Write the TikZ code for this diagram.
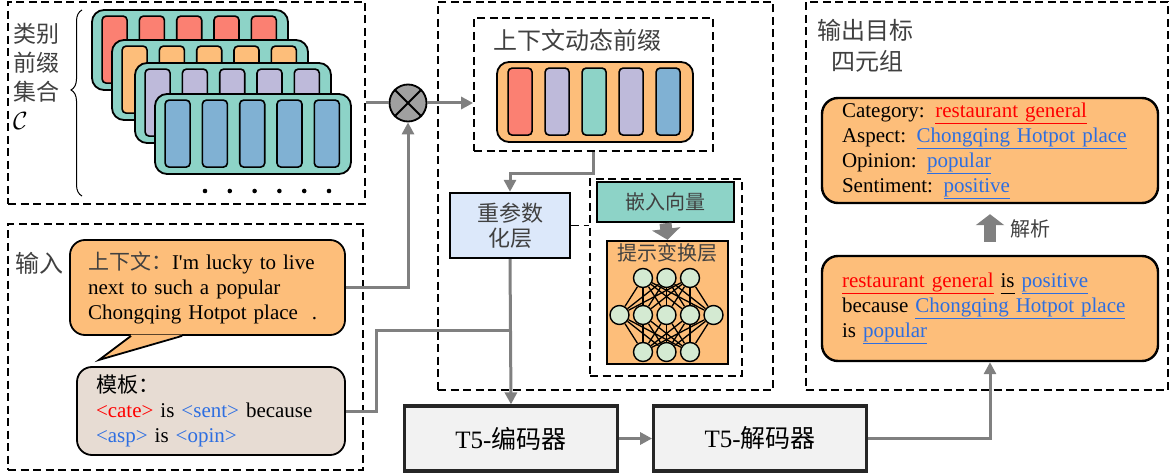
\documentclass[tikz,border=0pt]{standalone}
\usepackage{fontspec}
\setmainfont{Liberation Serif}
\newfontfamily\cjk{Noto Sans CJK SC}
\usetikzlibrary{calc,positioning,arrows.meta,decorations.pathreplacing}
\definecolor{setred}{RGB}{251,128,114}
\definecolor{setorange}{RGB}{253,190,122}
\definecolor{setteal}{RGB}{141,211,199}
\definecolor{setpurple}{RGB}{190,186,218}
\definecolor{setblue}{RGB}{128,177,211}
\definecolor{netgreen}{RGB}{212,234,210}
\definecolor{reparamblue}{RGB}{220,232,250}
\definecolor{tplbeige}{RGB}{231,220,211}
\definecolor{flowgray}{RGB}{128,128,128}
\definecolor{mulgray}{RGB}{160,160,160}
\definecolor{catred}{RGB}{255,0,0}
\definecolor{linkblue}{RGB}{45,110,225}
\definecolor{labelgray}{RGB}{64,64,64}

\newcommand{\redul}[1]{\textcolor{catred}{\underline{#1\vphantom{gp}}}}
\newcommand{\blueul}[1]{\textcolor{linkblue}{\underline{#1\vphantom{gp}}}}

\tikzset{
  groupbox/.style={draw, line width=1.8pt, dash pattern=on 8pt off 4.5pt, inner sep=0pt},
  groupline/.style={line width=1.8pt, dash pattern=on 8pt off 4.5pt},
  cardbox/.style={draw, line width=1.8pt, rounded corners=12pt, fill=setteal,
    minimum width=196pt, minimum height=80pt, inner sep=0pt},
  cellbar/.style={draw, line width=1.6pt, rounded corners=4pt},
  solidbox/.style={draw, line width=2.4pt, inner sep=0pt},
  textbox/.style={draw, line width=1.8pt, rounded corners=15pt, align=left,
    inner ysep=0pt, font=\fontsize{21}{25}\selectfont},
  cnlabel/.style={text=labelgray, inner sep=0pt},
  t5box/.style={draw=black!85, line width=3.2pt, fill=black!5, minimum width=213pt,
    minimum height=65pt, font=\fontsize{25}{30}\selectfont},
  neuron/.style={circle, draw, line width=1.4pt, fill=netgreen, minimum size=19pt, inner sep=0pt},
  synapse/.style={line width=1.3pt},
  flow/.style={draw=flowgray, line width=3pt, -{Triangle[length=12pt,width=12pt]}},
  link/.style={draw=flowgray, line width=3pt},
  fatflow/.style={draw=flowgray, line width=12pt, -{Triangle[length=11pt,width=28pt]}},
}

\begin{document}
\begin{tikzpicture}[x=1pt,y=-1pt]
\useasboundingbox (0,0) rectangle (1170,473);

% dashed groups
\node[groupbox, minimum width=357pt, minimum height=202pt] (setgroup) at (186.5,103) {};
\node[groupbox, minimum width=355pt, minimum height=246pt] (ingroup) at (185.5,347) {};
\node[groupbox, minimum width=335pt, minimum height=388pt] (midgroup) at (605.5,196) {};
\node[groupbox, minimum width=239pt, minimum height=133pt] (pfxgroup) at (593.5,84.5) {};
\node[groupbox, minimum width=152pt, minimum height=197pt] (netgroup) at (666,277.5) {};
\node[groupbox, minimum width=362pt, minimum height=388pt] (outgroup) at (987,196) {};

% category prefix set
\node[cnlabel, align=left, anchor=west, font=\cjk\fontsize{23}{29}\selectfont] (setlabel) at (13,76) {类别\\前缀\\集合\\\textcolor{black}{$\mathcal{C}$}};
\draw[decorate, decoration={brace, amplitude=11pt, aspect=0.57}, line width=1pt] (82,196) -- (82,10);
\foreach \n/\cx/\cy/\col in {1/190/50/setred, 2/210/80/setorange, 3/233/103/setpurple, 4/253/134/setblue}{
  \node[cardbox] (card\n) at (\cx,\cy) {};
  \foreach \i in {0,...,4}
    \draw[cellbar, fill=\col] ($(card\n.north west)+(11+\i*37.3,7)$) rectangle ++(25,67);
}
\foreach \i in {0,...,5}
  \fill (205+\i*24.8,191) circle (2.3pt);

% product
\node[circle, draw, fill=mulgray, line width=1.8pt, minimum size=37pt, inner sep=0pt] (mul) at (408,103) {};
\draw[line width=1.8pt] (mul.45) -- (mul.225) (mul.135) -- (mul.315);

% dynamic context prefix
\node[cnlabel, font=\cjk\fontsize{24}{28}\selectfont] (pfxlabel) at (577,40) {上下文动态前缀};
\node[cardbox, fill=setorange] (pfx) at (595,102) {};
\foreach \i/\col in {0/setred, 1/setpurple, 2/setteal, 3/setpurple, 4/setblue}
  \draw[cellbar, fill=\col] ($(pfx.north west)+(12+\i*37,7)$) rectangle ++(24,67);

% reparameterisation
\node[solidbox, fill=reparamblue, minimum width=120pt, minimum height=65pt, align=center,
  text=labelgray, font=\cjk\fontsize{22}{25}\selectfont] (reparam) at (510,225.5) {重参数\\化层};
\node[solidbox, fill=setteal, minimum width=137pt, minimum height=40pt, text=labelgray,
  font=\cjk\fontsize{20}{24}\selectfont] (emb) at (665.5,202) {嵌入向量};
\node[solidbox, fill=setorange, minimum width=121pt, minimum height=123pt] (prompt) at (667.5,302.5) {};
\node[cnlabel, font=\cjk\fontsize{20}{24}\selectfont, below=4pt of prompt.north] (promptlabel) {提示变换层};
\draw[fatflow] (emb.south) -- (prompt.north);
\foreach \i in {1,2,3}
  \node[neuron] (t\i) at (619.5+\i*23.5,278) {};
\foreach \i in {1,...,5}
  \node[neuron] (m\i) at (596+\i*23.5,315) {};
\foreach \i in {1,2,3}
  \node[neuron] (b\i) at (619.5+\i*23.5,352) {};
\foreach \a in {1,2,3}
  \foreach \b in {1,...,5}{
    \draw[synapse] (t\a) -- (m\b);
    \draw[synapse] (m\b) -- (b\a);
  }

% input
\node[cnlabel, anchor=west, font=\cjk\fontsize{24}{28}\selectfont] (inlabel) at (15,263) {输入};
\node[textbox, fill=setorange, text width=239pt, inner xsep=18pt, minimum height=95pt] (ctx) at (207.5,287.5)
  {\textcolor{labelgray}{\cjk 上下文：}I\textquotesingle m lucky to live\\next to such a popular\\Chongqing Hotpot place\ \ .};
\fill[setorange] ($(ctx.south west)+(62,-1.2)$) -- ($(ctx.south west)+(30,24)$) -- ($(ctx.south west)+(113,-1.2)$) -- cycle;
\draw[line width=1.8pt] ($(ctx.south west)+(62,0)$) -- ($(ctx.south west)+(30,24)$) -- ($(ctx.south west)+(113,0)$);
\node[textbox, fill=tplbeige, text width=230pt, inner xsep=19pt, minimum height=88pt] (tpl) at (211,411)
  {{\cjk 模板：}\\\textcolor{catred}{<cate>} is \textcolor{linkblue}{<sent>} because\\\textcolor{linkblue}{<asp>} is \textcolor{linkblue}{<opin>}};

% T5
\node[t5box] (enc) at (511,438.5) {T5-{\cjk 编码器}};
\node[t5box, right=33pt of enc] (dec) {T5-{\cjk 解码器}};

% output
\node[cnlabel, anchor=west, font=\cjk\fontsize{24}{28}\selectfont] (outlabel) at (817,30) {输出目标};
\node[cnlabel, anchor=west, font=\cjk\fontsize{24}{28}\selectfont] (quadlabel) at (831,61) {四元组};
\node[textbox, fill=setorange, text width=296pt, inner xsep=20pt, minimum height=105pt,
  rounded corners=16pt, line width=2.4pt] (quad) at (990,150.5)
  {Category: \redul{restaurant general}\\Aspect: \blueul{Chongqing Hotpot place}\\Opinion: \blueul{popular}\\Sentiment: \blueul{positive}};
\node[textbox, fill=setorange, text width=296pt, inner xsep=20pt, minimum height=105pt,
  rounded corners=16pt, line width=2.4pt] (sent) at (990,308.5)
  {\redul{restaurant general} \underline{is\vphantom{gp}} \blueul{positive}\\because \blueul{Chongqing Hotpot place}\\is \blueul{popular}};
\draw[fatflow, shorten <=13pt, shorten >=10pt] (sent.north) -- (quad.south);
\node[cnlabel, font=\cjk\fontsize{20}{24}\selectfont] (parselabel) at (1030,229) {解析};

% connectors
\coordinate (join) at (reparam.south |- 0,330);
\draw[link] (setgroup.east |- mul) -- (mul.west);
\draw[flow] (mul.east) -- (mul.east -| pfxgroup.west);
\draw[flow] (ctx.east) -| (mul.south);
\draw[flow] (pfxgroup.south) -- ++(0,22) -| (reparam.north);
\draw[groupline] (reparam.east) -- (reparam.east -| netgroup.west);
\draw[flow] (reparam.south) -- (enc.north);
\draw[link] (tpl.east) -- ++(31,0) |- (join);
\draw[flow] (enc) -- (dec);
\draw[flow] (dec.east) -| (sent.south);
\end{tikzpicture}
\end{document}
